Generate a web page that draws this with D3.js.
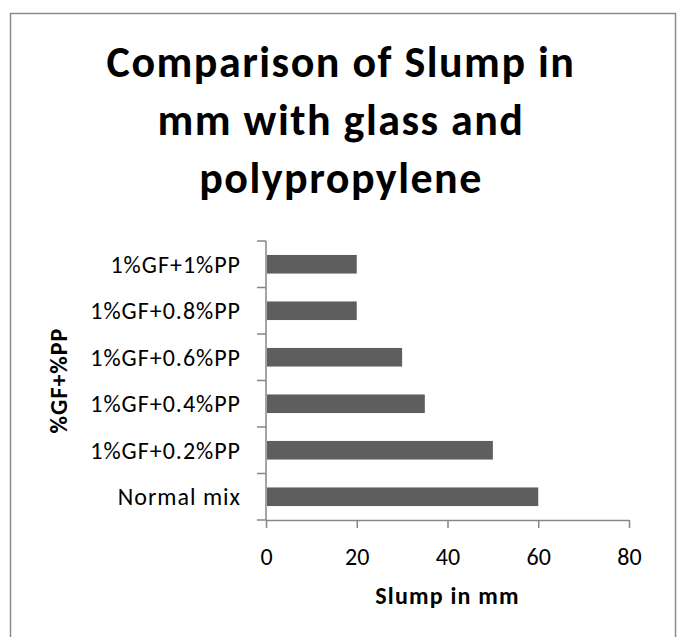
<!DOCTYPE html>
<html>
<head>
<meta charset="utf-8">
<script src="https://cdn.jsdelivr.net/npm/d3@7"></script>
<style>
  html, body { margin: 0; padding: 0; background: #fff; }
  svg { display: block; }
  text { font-family: Carlito, Lato, "Open Sans", sans-serif; fill: #000; }
</style>
</head>
<body>
<svg id="chart" width="678" height="637"></svg>
<script>
// Slump measurements (mm) for each glass / polypropylene fibre mix
const categories = ["Normal mix", "1%GF+0.2%PP", "1%GF+0.4%PP", "1%GF+0.6%PP", "1%GF+0.8%PP", "1%GF+1%PP"];
const slumpValues = [60, 50, 35, 30, 20, 20];
const xTickValues = [0, 20, 40, 60, 80];
const titleLines = ["Comparison of Slump in", "mm with glass and", "polypropylene"];
const xAxisTitle = "Slump in mm";
const yAxisTitle = "%GF+%PP";

const svg = d3.select("#chart");
const axisColor = "#868686";
const barColor = "#5e5e5e";
const fontStack = "Carlito, Lato, 'Open Sans', sans-serif";

// outer chart frame
svg.append("rect")
  .attr("x", 10.5).attr("y", 13.5)
  .attr("width", 665).attr("height", 640)
  .attr("fill", "#fff")
  .attr("stroke", "#8a8a8a").attr("stroke-width", 1.5);

const plot = { left: 266, right: 629, top: 241, bottom: 520 };

const x = d3.scaleLinear().domain([0, 80]).range([plot.left, plot.right]);
// first category sits at the bottom, as in a horizontal bar chart
const y = d3.scaleBand()
  .domain(categories.slice().reverse())
  .range([plot.top, plot.bottom])
  .paddingInner(0.6)
  .paddingOuter(0.3);

// title
const title = svg.append("text")
  .attr("text-anchor", "middle")
  .attr("font-weight", "bold")
  .attr("font-size", 44)
  .attr("letter-spacing", 1.5);
titleLines.forEach((line, i) => {
  title.append("tspan")
    .attr("x", 341)
    .attr("y", 77 + i * 58)
    .text(line);
});

// bars
svg.append("g").selectAll("rect")
  .data(categories.map((c, i) => ({ c, v: slumpValues[i] })))
  .join("rect")
  .attr("x", x(0) + 1)
  .attr("y", d => y(d.c))
  .attr("width", d => x(d.v) - x(0) - 1)
  .attr("height", y.bandwidth())
  .attr("fill", barColor);

// x axis
const xAxis = svg.append("g")
  .attr("transform", `translate(0,${plot.bottom})`)
  .call(d3.axisBottom(x).tickValues(xTickValues).tickSize(8).tickSizeOuter(0).tickPadding(20));
xAxis.select(".domain").attr("stroke", axisColor).attr("stroke-width", 1.5);
xAxis.selectAll(".tick line").attr("stroke", axisColor).attr("stroke-width", 1.5);
xAxis.selectAll(".tick text")
  .attr("font-size", 24)
  .attr("fill", "#000")
  .style("font-family", fontStack);

// y axis: line, category boundary ticks and labels
const yAxis = svg.append("g");
yAxis.append("line")
  .attr("x1", plot.left).attr("x2", plot.left)
  .attr("y1", plot.top).attr("y2", plot.bottom)
  .attr("stroke", axisColor).attr("stroke-width", 1.5);
const step = y.step();
const boundaries = d3.range(categories.length + 1).map(i => y.range()[0] + i * step);
yAxis.selectAll("line.bound")
  .data(boundaries)
  .join("line")
  .attr("class", "bound")
  .attr("x1", plot.left - 9).attr("x2", plot.left)
  .attr("y1", d => d).attr("y2", d => d)
  .attr("stroke", axisColor).attr("stroke-width", 1.5);
yAxis.selectAll("text")
  .data(categories)
  .join("text")
  .attr("x", plot.left - 25)
  .attr("y", d => y(d) + y.bandwidth() / 2)
  .attr("dy", "0.36em")
  .attr("text-anchor", "end")
  .attr("font-size", 24)
  .attr("letter-spacing", 1)
  .text(d => d);

// axis titles
svg.append("text")
  .attr("x", (plot.left + plot.right) / 2)
  .attr("y", 604)
  .attr("text-anchor", "middle")
  .attr("font-weight", "bold")
  .attr("font-size", 24)
  .attr("letter-spacing", 1.2)
  .text(xAxisTitle);

svg.append("text")
  .attr("transform", `translate(67,${(plot.top + plot.bottom) / 2}) rotate(-90)`)
  .attr("text-anchor", "middle")
  .attr("font-weight", "bold")
  .attr("font-size", 24)
  .attr("letter-spacing", 1)
  .text(yAxisTitle);
</script>
</body>
</html>
